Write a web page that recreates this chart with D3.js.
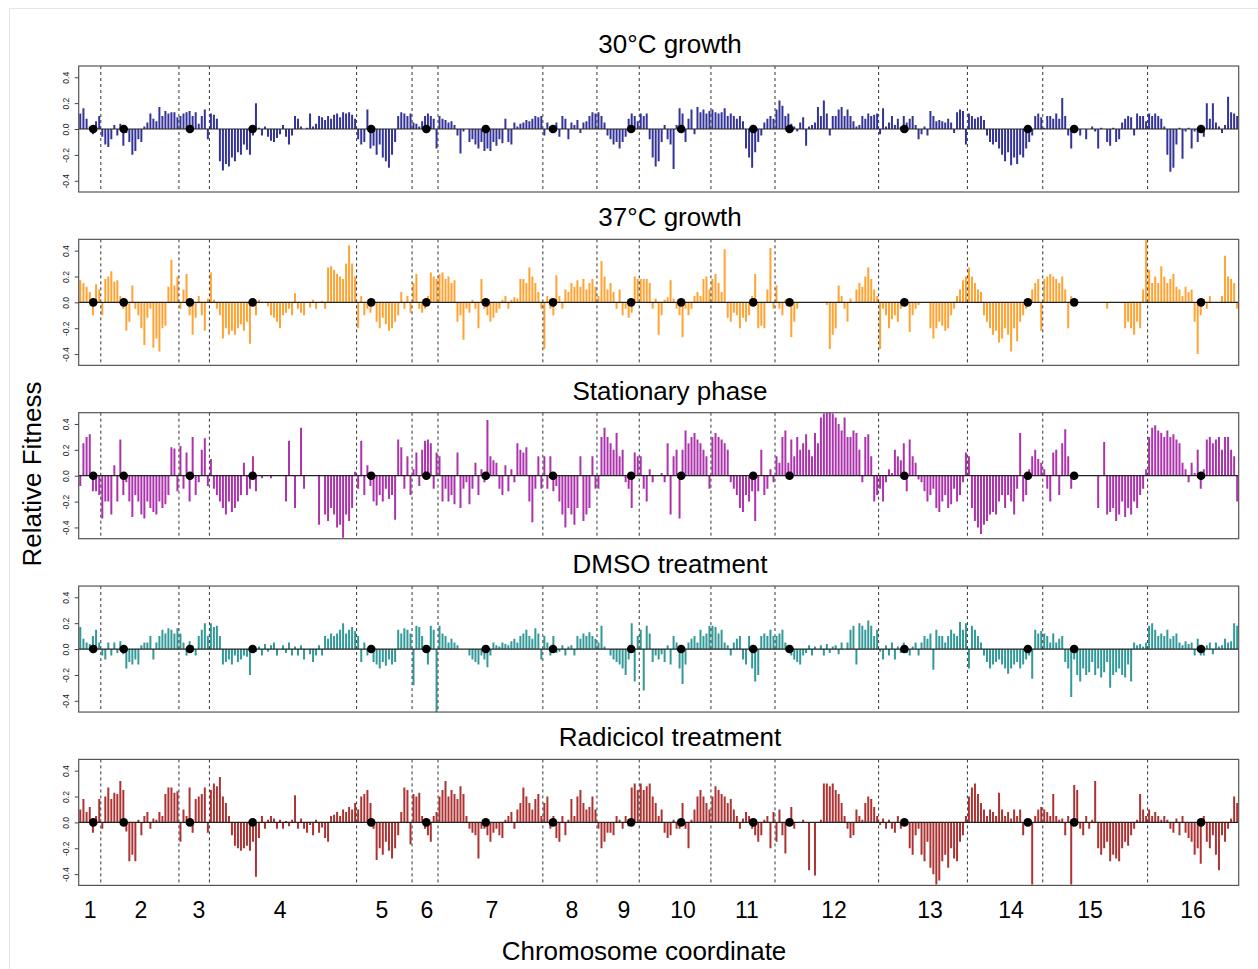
<!DOCTYPE html>
<html><head><meta charset="utf-8">
<script src="https://cdn.jsdelivr.net/npm/d3@7"></script>
<style>body{margin:0;background:#fff} svg{display:block} text{font-family:"Liberation Sans",Arial,Helvetica,sans-serif}</style>
</head><body><svg id="c" width="1258" height="969"></svg>
<script>
// ---------- data ----------
const chromNames = ["1","2","3","4","5","6","7","8","9","10","11","12","13","14","15","16"];
const chromLenKb = [230,813,317,1532,577,270,1091,563,440,746,667,1078,924,784,1091,948];
const centromereKb = [151.5,238.2,114.4,449.7,151.9,148.5,496.9,105.6,355.6,436.3,440.1,150.8,268.0,628.8,326.6,555.9];
const chromLabelKb = [118,648,1252,2095,3156,3624,4301,5133,5674,6288,6954,7859,8858,9701,10523,11595];
const panelTitles = ["30\u00B0C growth","37\u00B0C growth","Stationary phase","DMSO treatment","Radicicol treatment"];
const panelColors = ["#000080","#ff8c00","#990099","#008080","#990000"];
const yTicks = [-0.4,-0.2,0,0.2,0.4];

// relative fitness, one list per chromosome, in order along each chromosome
const fit30 = [
[.12,.16,.08,.02,-.04,.06,.1],
[-.06,-.12,-.14,-.08,.03,-.05,.04,-.13,-.03,-.1,-.2,-.17,-.08,-.1,.02,.05,.12,.08,.06,.17,.1,.14,.12,.13,.13,.09],
[.1,.12,.13,.14,.1,.13,.04,.1,.15,-.08],
[.12,.11,.08,-.25,-.32,-.27,-.29,-.22,-.25,-.18,-.2,-.12,-.16,-.2,-.05,.2,.01,-.05,.02,-.06,-.09,-.1,-.07,-.04,.03,-.06,-.12,-.05,.1,.08,.02,null,.01,.12,.02,.04,.1,.09,.07,.1,.08,.11,.12,.09,.13,.12,.13,.11,.08],
[-.08,-.12,-.1,.15,-.15,-.13,-.2,-.12,-.22,-.25,-.3,-.2,-.1,.1,.13,.12,.1,.12],
[.05,.04,.02,.06,.1,.12,.1,.08,-.15],
[.1,.08,.07,.05,.06,.03,-.05,-.19,-.02,null,-.1,-.08,-.12,-.15,-.1,-.17,-.15,-.17,-.1,-.13,-.08,-.11,.08,-.1,-.12,.05,.02,.04,.05,.07,.06,.08,.1,.09,.1],
[-.05,.05,.02,-.03,.05,-.06,.1,.08,-.08,.05,.03,.07,-.03,.05,.06,.1,.13,.12],
[.13,.1,.05,-.05,-.08,-.12,-.1,-.15,-.1,-.06,.08,.12,.1,.06],
[.12,.1,.12,-.08,-.22,-.29,-.25,-.1,.03,-.08,-.12,-.31,.03,.16,.12,-.1,.08,.15,-.04,.17,.13,.15,.12,.14],
[.15,.13,.12,.13,.16,.1,.12,.1,.08,.1,.06,-.15,-.22,-.3,-.18,-.1,-.05,.05,.08,.1,.08],
[.15,.22,.18,.1,.12,.04,.02,-.02,.05,.09,-.13,.02,.03,.05,.17,.1,.22,.12,-.05,.1,.1,.15,.17,.1,.15,.1,.06,.02,.03,.1,.08,.12,.1,.11,.12],
[-.04,.16,.02,.05,.1,.03,.08,.02,.1,.05,.08,.1,.03,-.08,-.04,.02,-.05,.14,.1,.06,.07,.06,.05,.08,.05,-.03,.13,.15,.14,-.12],
[.12,.1,.08,.09,.1,.07,-.05,-.1,-.12,-.1,-.15,-.2,-.25,-.18,-.28,-.22,-.27,-.2,-.22,-.15,-.1,-.05,.1,.12,.09],
[.01,.1,.1,.08,.12,.08,.24,.1,-.05,-.15,.01,-.01,-.05,null,-.08,null,.02,-.02,-.15,.01,null,-.1,-.13,.01,-.1,-.08,.05,.08,.1,.09,-.05,.12,.1,.1,.06],
[.12,.1,.12,.1,.08,.02,-.2,-.33,-.3,-.12,.01,-.23,-.02,.01,-.15,-.02,-.1,.02,-.06,.2,.08,.2,.05,.02,-.03,.03,.25,.13,.12,.1]
];
const fit37 = [
[.17,.15,.12,.08,-.1,.14,.1],
[-.1,.18,.2,.24,.16,.17,.05,-.05,-.22,-.15,.13,-.05,-.1,-.2,-.33,-.12,-.05,-.35,-.28,-.38,-.2,-.18,.12,.33,.13,.2],
[-.05,.1,.22,-.1,-.25,-.12,.05,-.1,-.22,.03],
[.23,.02,-.05,-.1,-.28,-.2,-.25,-.22,-.25,-.2,-.17,-.22,-.15,-.32,.01,-.1,.02,null,null,-.03,-.1,-.12,-.15,-.2,-.1,-.08,-.05,-.1,.07,-.05,-.08,-.1,null,-.04,.02,-.05,null,.01,-.05,.27,.28,.25,.22,.2,.18,.3,.44,.3,.2],
[-.2,.05,-.1,-.05,-.08,.02,-.15,-.2,-.12,-.17,-.22,-.2,-.15,-.1,.08,-.05,.05,-.08],
[.15,.22,-.05,-.08,-.05,.05,.23,.2,.18],
[.22,.23,.18,.2,.15,.17,-.15,-.1,-.29,-.05,-.08,.02,-.05,-.2,.18,-.05,-.1,-.15,-.12,-.08,-.05,.02,.05,-.05,.02,.04,.03,.18,.18,.15,.27,.2,.15,.08,-.05],
[-.36,.05,-.05,-.1,.21,.05,-.05,.1,.08,.15,.12,.17,.12,.18,.1,.15,.18,.12],
[.05,.32,.2,.1,.15,.08,-.05,.1,-.1,-.05,-.12,-.08,.2,.18],
[.18,.18,.18,.15,-.05,.03,-.25,-.1,.02,.04,.17,.03,-.05,-.1,-.27,-.05,-.1,-.05,.05,.08,.05,.18,.2,.1],
[.18,.22,.15,.08,.41,-.12,-.15,-.08,-.1,-.2,-.12,-.15,-.1,.05,.22,-.2,-.18,-.2,.1,.42,-.05],
[.13,-.05,-.1,.02,-.02,-.27,-.15,-.05,null,null,null,null,null,null,null,null,null,-.02,-.36,-.25,-.2,.13,.05,-.05,-.15,.03,null,.1,.15,.12,.2,.27,.18,.1,.05],
[-.36,-.05,-.1,-.2,-.13,-.1,-.15,-.05,-.02,.02,-.23,-.1,-.05,-.02,null,null,null,-.2,-.28,-.2,-.15,-.18,-.22,-.2,-.1,-.05,.05,.1,.17,.2],
[.27,.2,.15,.1,.08,-.1,-.15,-.2,-.25,-.22,-.31,-.28,-.2,-.25,-.38,-.2,-.3,-.15,-.1,-.05,.02,.1,.15,.18,-.22],
[.18,.2,.22,.2,.18,.15,.2,.1,-.2,.05,-.02,null,null,null,null,null,null,null,null,null,null,-.05,null,null,null,null,null,-.2,-.15,-.2,-.25,-.15,-.2,.1,.48],
[.25,.15,.2,.15,.28,.2,.15,.18,.22,.12,.1,.05,.12,.08,.1,-.15,-.4,-.1,.02,-.05,.05,null,null,null,.05,.36,.2,.18,.15,-.05]
];
const fitStat = [
[-.08,.25,.3,.32,-.12,-.12,-.15],
[-.33,-.2,-.2,-.3,.08,-.2,.28,-.15,-.05,-.2,-.32,-.15,-.2,-.3,-.33,-.2,-.25,-.28,-.3,-.2,-.25,-.22,-.15,.22,.21,-.12],
[.23,-.1,.18,-.2,.3,-.15,-.05,.2,.29,-.08],
[.13,-.1,-.15,-.2,-.25,-.3,-.2,-.28,-.25,-.2,-.15,.1,-.15,-.1,.15,-.12,null,-.02,null,null,-.02,null,null,null,null,-.2,.27,null,-.25,null,.37,-.1,null,null,null,null,-.38,null,-.3,-.35,-.25,-.3,-.4,-.38,-.48,-.3,-.35,-.25,.03],
[-.1,.27,-.15,.08,-.08,-.2,-.23,-.15,-.2,-.1,-.18,-.15,-.34,.28,.22,-.1,.15,-.15],
[.05,.18,-.08,.2,.27,.28,.25,-.1,.18],
[.15,-.2,-.1,-.2,-.15,-.22,.18,-.25,-.1,-.05,-.22,-.1,.1,-.15,.05,-.05,.43,.15,.12,.1,-.1,-.15,.08,-.12,.05,-.05,.25,.2,.18,.22,-.2,-.36,-.1,.15,-.1],
[.15,-.1,.15,-.12,-.08,-.2,-.3,-.4,-.25,-.3,-.38,-.25,.15,-.35,-.3,-.25,.15,-.1],
[-.1,.3,.37,.3,.25,.2,.33,.15,.2,-.05,-.1,-.25,.18,.15],
[.15,-.1,-.2,.05,-.05,null,null,.02,-.05,.25,-.3,.15,.2,-.33,.2,.35,.25,.3,.33,.28,.25,.2,.15,-.1],
[.3,.33,.3,.28,.25,.2,-.05,-.1,-.15,-.25,-.28,-.15,-.2,-.12,-.35,-.12,.2,-.15,-.1,.05,-.05],
[.15,.1,.3,.35,.1,.28,.15,.3,.2,.25,.32,.2,.15,.33,.25,.45,.48,.5,.5,.48,.45,.4,.35,.45,.3,.3,.35,.33,.2,-.05,.3,.32,.15,-.2,-.15],
[-.1,-.2,-.05,.05,.02,.2,.15,.12,.25,-.12,.28,.15,.1,-.03,-.05,-.12,-.2,-.15,-.1,-.25,-.28,-.2,-.15,-.25,-.22,-.1,-.2,-.15,-.05,.18],
[.15,-.25,-.35,-.4,-.45,-.38,-.35,-.3,-.28,-.3,-.2,-.15,-.25,-.15,-.2,-.3,-.1,.33,-.2,-.15,.05,.15,.2,.13,.1],
[.05,-.1,-.2,.18,.2,-.15,.25,.36,.15,-.1,.02,null,null,null,null,null,null,null,-.25,null,.26,-.3,-.28,-.25,-.35,-.3,-.2,-.32,-.25,-.3,-.2,-.25,-.15,-.1,.05],
[.3,.37,.39,.35,.33,.3,.35,.3,.32,.28,.25,.1,.05,-.05,.1,.02,.2,-.1,.05,.28,.3,.25,.28,.3,.2,.3,.3,.2,.15,-.2]
];
const fitDMSO = [
[.17,.08,.05,.04,.1,.15,.05],
[-.05,-.08,.05,-.05,.05,-.03,.06,-.04,-.15,-.1,-.12,-.08,-.12,.03,.05,.05,.1,-.08,.05,.1,.15,.12,.16,.15,.12,.16],
[.12,.05,-.05,.06,.03,-.05,.1,.15,.2,.1],
[.2,.17,.18,.1,-.12,-.1,-.08,-.12,-.05,-.1,-.08,-.05,-.06,-.2,.01,-.02,.02,-.05,.04,-.02,.03,.05,-.05,null,.03,-.03,.05,-.05,.02,-.05,.03,-.08,null,-.04,-.1,-.05,.03,-.05,.1,.08,.12,.1,.12,.15,.2,.12,.15,.17,.14],
[.1,-.1,.05,-.05,.02,-.1,-.12,-.15,-.1,-.13,-.08,-.12,-.1,.15,.12,.16,.15,.12],
[-.28,.18,.17,.1,.02,-.12,.18,.15,-.49],
[.18,.12,.1,.05,.08,.05,.03,null,null,null,-.05,-.08,-.1,-.12,-.05,-.08,-.14,-.05,.05,.03,.02,.05,.04,.03,.06,.08,.05,.1,.12,.15,.1,.08,.16,.12,-.08],
[.1,.05,-.05,.1,-.03,-.02,.03,-.05,.02,.03,-.05,.1,.08,.12,.1,.13,.1,.08],
[.05,.18,.02,null,-.05,-.08,-.1,-.12,-.15,-.2,-.08,.2,-.25,.1],
[.15,-.32,.18,.12,-.1,-.05,-.08,-.04,-.1,.03,-.12,.1,.05,-.15,-.27,-.12,.05,.08,.1,.05,.15,.1,.12,.18],
[.18,.17,.12,.15,.05,.03,-.05,.05,.08,.1,-.08,-.12,.1,-.15,-.25,-.2,.1,.12,.1,.15,.1],
[.1,.12,.15,.05,.02,-.05,-.08,-.1,-.12,-.05,-.03,.03,-.05,.02,null,.03,-.05,.04,-.03,.02,.03,-.04,.05,null,.05,.15,.18,-.12,.2,.18,.15,.22,.18,.1,.15],
[-.02,-.08,.03,-.05,.05,-.08,.02,-.03,.05,-.03,-.05,.02,.05,-.05,.05,.1,.08,.12,-.16,.15,.1,.1,.05,.1,.15,.12,.1,.21,.15,.2],
[-.15,.18,.15,.1,.05,-.05,-.1,-.15,-.12,-.1,-.08,-.12,-.15,-.19,-.15,-.12,-.1,-.15,-.12,-.08,-.05,-.23,.15,.12,.14],
[.12,.1,.05,.12,.05,.08,.1,-.1,-.15,-.37,-.08,-.2,-.25,-.15,-.2,-.18,-.1,-.2,-.15,-.22,-.18,-.1,-.3,-.2,-.18,-.15,-.2,-.22,-.12,-.25,.05,.03,.04,.02,.05],
[.18,.2,.15,.1,.12,.1,.15,.08,.1,.12,.05,.03,.06,.04,.05,-.05,.08,-.05,-.05,.03,.05,-.04,.05,.02,.03,.08,.05,.06,.2,.18]
];
const fitRad = [
[.1,.18,.08,.12,-.08,.05,.18],
[-.05,.2,.27,.18,.23,.22,.32,.25,-.07,-.3,-.25,-.3,.02,-.1,.05,.08,-.05,.03,.02,.08,.05,.22,.27,.27,.23,.24],
[-.15,.1,.05,.27,-.08,.18,.2,.22,.27,-.08],
[.25,.3,.28,.35,.2,.15,.05,-.1,-.18,-.2,-.22,-.2,-.18,-.22,-.15,-.42,-.12,.05,-.05,.02,.05,.03,-.05,.02,-.05,.01,-.03,.02,.21,-.05,.03,-.05,-.08,-.02,-.1,.02,-.08,-.04,-.12,-.15,.05,.06,.08,.05,.1,.08,.12,.1,.15],
[.1,.2,.22,.25,.15,-.05,-.29,-.2,-.25,-.15,-.22,-.28,-.2,-.1,.08,.27,.25,-.17],
[.22,.2,.23,.05,-.05,-.1,-.15,.05,.08],
[.2,.25,.32,.2,.25,.22,.18,.28,.22,.05,-.05,-.08,-.1,-.28,-.05,-.05,-.1,-.15,-.08,-.05,-.1,-.12,.02,.05,.08,-.05,.1,.15,.27,.2,.15,.1,.18,.22,.05],
[.15,.2,-.05,.05,-.12,-.15,.05,-.1,.02,.18,.05,.2,.25,.15,.1,.12,.2,.1],
[-.05,-.2,-.15,-.08,-.08,-.1,.05,.02,-.05,.05,-.03,.27,.3,.25],
[.3,.25,.28,.3,.2,.15,.05,.1,-.08,-.12,-.1,.02,-.05,-.05,.15,-.05,-.2,.02,.1,.2,.25,.2,.15,.1],
[.2,.28,.25,.22,.2,.15,.18,.1,.05,-.05,.03,.08,.05,-.05,-.1,-.15,-.1,.02,.05,-.2,.08],
[-.15,.1,-.1,-.24,.02,.12,-.05,null,null,.02,null,-.37,null,-.41,null,.02,.3,.3,.28,.3,.25,.22,.15,.05,-.05,-.12,-.1,.1,.05,.02,.15,.2,.18,.12,.05],
[-.02,.03,-.05,.02,-.05,-.08,.05,-.05,.02,.01,-.2,-.25,-.1,-.05,-.25,-.3,-.15,-.35,-.4,-.48,-.45,-.3,-.25,-.35,-.2,-.28,-.3,-.15,-.1,.05],
[.2,.27,.3,.22,.15,.1,.05,.1,.08,.05,.23,.1,.05,.08,.03,.1,.05,.1,-.1,.02,.02,-.48,.05,.1,.12],
[.1,.08,.05,.22,.05,.02,.03,-.1,.05,-.48,.29,.25,-.05,-.1,.05,-.05,.02,.32,-.2,-.25,-.2,-.15,-.3,-.25,-.28,-.3,-.2,-.15,-.18,-.1,-.05,.02,.22,.1,.05],
[.1,.05,.08,.05,.02,.05,.02,-.05,-.08,.03,-.1,.05,-.08,-.12,-.15,-.25,-.2,-.32,.05,-.15,-.2,-.1,-.25,-.37,-.1,-.15,-.05,.03,.2,.15]
];
const panelData = [fit30, fit37, fitStat, fitDMSO, fitRad];

// ---------- drawing ----------
const svg = d3.select("#c");
svg.append("line").attr("x1",9.5).attr("x2",1258).attr("y1",8.5).attr("y2",8.5).attr("stroke","#e4e4e4");
svg.append("line").attr("x1",9.5).attr("x2",9.5).attr("y1",8.5).attr("y2",969).attr("stroke","#e4e4e4");

const chromStart = [];
chromLenKb.reduce((acc, l, i) => { chromStart[i] = acc; return acc + l; }, 0);
const totalKb = d3.sum(chromLenKb);
const plotL = 78.7, plotR = 1238.7;
const x = d3.scaleLinear().domain([0, totalKb]).range([plotL, plotR]);
const panelTop0 = 66, panelStep = 173.35, panelH = 126;
const yLim = 0.487;

panelData.forEach((data, p) => {
  const top = panelTop0 + p * panelStep;
  const y = d3.scaleLinear().domain([-yLim, yLim]).range([top + panelH, top]);
  const g = svg.append("g");
  const clipId = "clip" + p;
  svg.append("clipPath").attr("id", clipId).append("rect")
    .attr("x", plotL).attr("y", top).attr("width", plotR - plotL).attr("height", panelH);

  // bars
  const pts = [];
  data.forEach((vals, c) => {
    const n = vals.length;
    vals.forEach((v, i) => {
      if (v === null) return;
      pts.push({ pos: chromStart[c] + (i + 0.5) * chromLenKb[c] / n, v });
    });
  });
  g.append("g").attr("clip-path", `url(#${clipId})`)
    .selectAll("line").data(pts).join("line")
    .attr("x1", d => x(d.pos)).attr("x2", d => x(d.pos))
    .attr("y1", y(0)).attr("y2", d => y(d.v))
    .attr("stroke", panelColors[p]).attr("stroke-width", 2).attr("stroke-opacity", 0.8);

  // chromosome boundaries
  g.selectAll("line.bd").data(chromStart.slice(1)).join("line").attr("class","bd")
    .attr("x1", d => x(d)).attr("x2", d => x(d))
    .attr("y1", top).attr("y2", top + panelH)
    .attr("stroke", "#333").attr("stroke-width", 1).attr("stroke-dasharray", "3,3");

  // zero line
  g.append("line").attr("x1", plotL).attr("x2", plotR).attr("y1", y(0)).attr("y2", y(0))
    .attr("stroke", "#222").attr("stroke-width", 1.2);

  // centromeres
  g.selectAll("circle").data(centromereKb).join("circle")
    .attr("cx", (d, i) => x(chromStart[i] + d)).attr("cy", y(0)).attr("r", 4.3).attr("fill", "#000");

  // box
  g.append("rect").attr("x", plotL).attr("y", top).attr("width", plotR - plotL).attr("height", panelH)
    .attr("fill", "none").attr("stroke", "#555").attr("stroke-width", 1.2);

  // y axis
  const ax = g.append("g").attr("transform", `translate(${plotL},0)`)
    .call(d3.axisLeft(y).tickValues(yTicks).tickSize(4).tickFormat(d => d.toFixed(1)));
  ax.select(".domain").remove();
  ax.selectAll(".tick line").attr("stroke", "#444");
  ax.selectAll(".tick text").attr("x", null).attr("dy", null)
    .attr("transform", "translate(-10,0) rotate(-90)")
    .attr("text-anchor", "middle").attr("font-size", 8.5).attr("fill", "#222")
    .style("font-family", '"Liberation Sans",Arial,sans-serif');

  // title
  svg.append("text").attr("x", 670).attr("y", top - 13).attr("text-anchor", "middle")
    .attr("font-size", 26).attr("fill", "#000").text(panelTitles[p]);
});

// chromosome numbers
svg.selectAll("text.chr").data(chromNames).join("text").attr("class","chr")
  .attr("x", (d, i) => x(chromLabelKb[i])).attr("y", 918)
  .attr("text-anchor", "middle").attr("font-size", 23).attr("fill", "#000").text(d => d);

svg.append("text").attr("x", 644).attr("y", 960).attr("text-anchor", "middle")
  .attr("font-size", 26).attr("fill", "#000").text("Chromosome coordinate");
svg.append("text").attr("transform", "translate(41,474) rotate(-90)").attr("text-anchor", "middle")
  .attr("font-size", 26).attr("fill", "#000").text("Relative Fitness");
</script></body></html>
